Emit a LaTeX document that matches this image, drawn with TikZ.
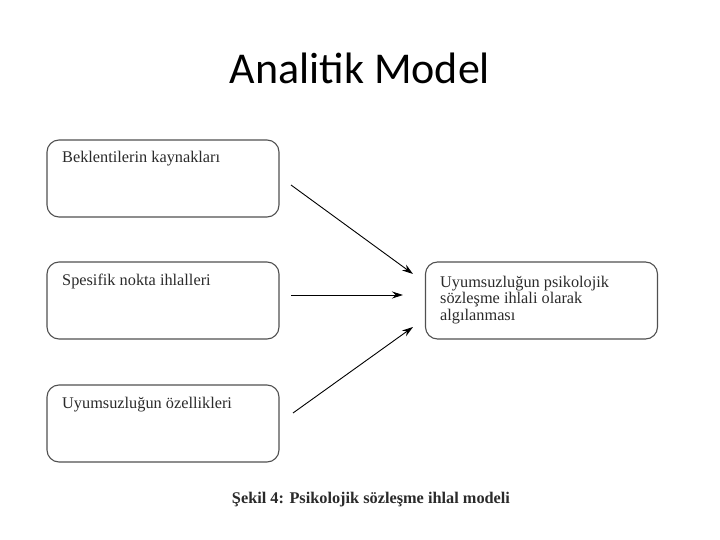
\documentclass[tikz,border=0pt]{standalone}
\usepackage{fontspec}
\setmainfont{Liberation Serif}
\newfontfamily\titlefont{Carlito}
\usetikzlibrary{arrows.meta,calc}
\definecolor{boxline}{HTML}{505050}
\definecolor{txt}{HTML}{2A2A2A}
\begin{document}
\begin{tikzpicture}[x=1pt,y=-1pt,
  box/.style={draw=boxline,line width=1.1pt,rounded corners=12pt,minimum width=232pt,minimum height=77pt,inner sep=0pt},
  boxtext/.style={inner sep=0pt,text=txt,font=\fontsize{16.3}{16.5}\selectfont,align=left},
  arr/.style={line width=0.9pt,-{Stealth[length=11pt,width=7pt]}}]
\useasboundingbox (0,0) rectangle (720,540);
\node[font=\titlefont\fontsize{44}{52}\selectfont] (title) at (360,68) {Analitik Model};
\node[box] (b1) at (163,178.5) {};
\node[box] (b2) at (163,300.5) {};
\node[box] (b3) at (163,423.5) {};
\node[box] (r) at (541.5,300.5) {};
\node[boxtext,anchor=base west] (t1) at (62,163) {Beklentilerin kaynakları};
\node[boxtext,anchor=base west] (t2) at (62,285) {Spesifik nokta ihlalleri};
\node[boxtext,anchor=base west] (t3) at (62,408) {Uyumsuzluğun özellikleri};
\node[boxtext,anchor=north west] (tr) at (440,275.5) {Uyumsuzluğun psikolojik\\sözleşme ihlali olarak\\algılanması};
\coordinate (s1) at (291,185);
\coordinate (e1) at (413,274);
\coordinate (s2) at (291,295);
\coordinate (e2) at (403,295);
\coordinate (s3) at (293,413);
\coordinate (e3) at (413,327);
\draw[arr] (s1) -- (e1);
\draw[arr] (s2) -- (e2);
\draw[arr] (s3) -- (e3);
\node[font=\bfseries\fontsize{16.3}{19}\selectfont,text=txt] (cap) at (371,500) {Şekil 4: Psikolojik sözleşme ihlal modeli};
\end{tikzpicture}
\end{document}
